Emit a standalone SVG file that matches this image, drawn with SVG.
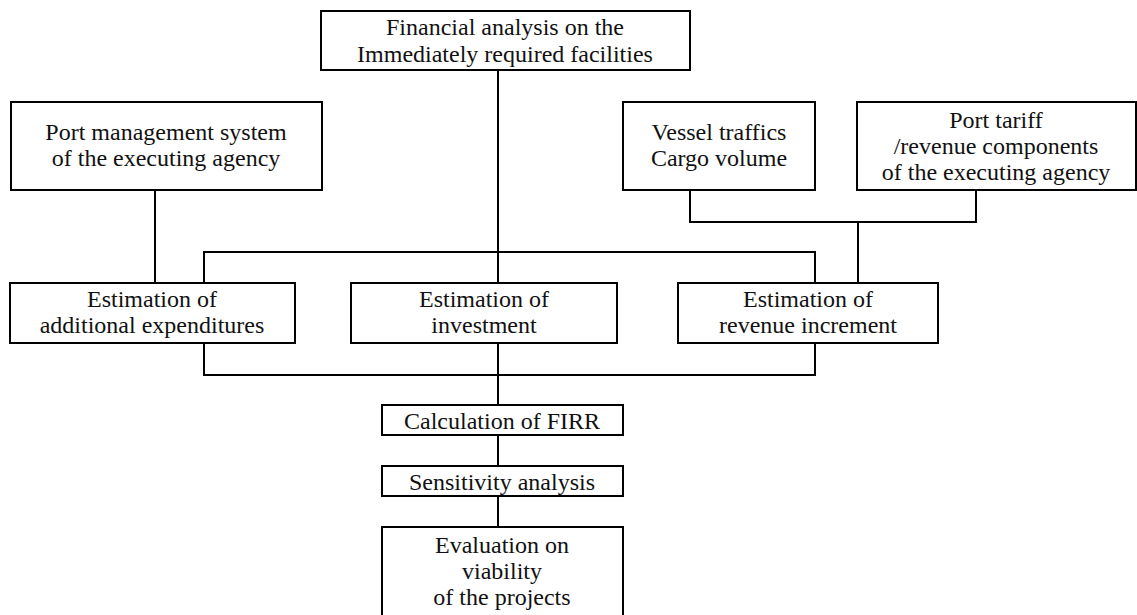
<svg xmlns="http://www.w3.org/2000/svg" width="1137" height="615" viewBox="0 0 1137 615">
  <style>
    .box { fill: #ffffff; stroke: #000000; stroke-width: 2; }
    .wire { fill: none; stroke: #000000; stroke-width: 2; }
    .lbl { font-family: 'Liberation Serif', 'Times New Roman', serif; font-size: 24px; fill: #111111; text-anchor: middle; }
  </style>

  <g id="connectors">
    <line class="wire" x1="498" y1="70" x2="498" y2="283"/>
    <line class="wire" x1="155" y1="190" x2="155" y2="283"/>
    <polyline class="wire" points="204,283 204,252 815,252 815,283"/>
    <polyline class="wire" points="690,190 690,222 976,222 976,190"/>
    <line class="wire" x1="858" y1="222" x2="858" y2="283"/>
    <polyline class="wire" points="204,343 204,375 815,375 815,343"/>
    <line class="wire" x1="498" y1="343" x2="498" y2="405"/>
    <line class="wire" x1="498" y1="435" x2="498" y2="466"/>
    <line class="wire" x1="498" y1="496" x2="498" y2="527"/>
  </g>

  <g id="financial-analysis">
    <rect class="box" x="321" y="11" width="369" height="59"/>
    <text class="lbl" x="505" y="35">Financial analysis on the</text>
    <text class="lbl" x="505" y="62">Immediately required facilities</text>
  </g>

  <g id="port-management">
    <rect class="box" x="11" y="102" width="311" height="88"/>
    <text class="lbl" x="166" y="140">Port management system</text>
    <text class="lbl" x="166" y="166">of the executing agency</text>
  </g>

  <g id="vessel-traffics">
    <rect class="box" x="623" y="102" width="192" height="88"/>
    <text class="lbl" x="719" y="140">Vessel traffics</text>
    <text class="lbl" x="719" y="166">Cargo volume</text>
  </g>

  <g id="port-tariff">
    <rect class="box" x="857" y="102" width="279" height="88"/>
    <text class="lbl" x="996" y="128">Port tariff</text>
    <text class="lbl" x="996" y="154">/revenue components</text>
    <text class="lbl" x="996" y="180">of the executing agency</text>
  </g>

  <g id="additional-expenditures">
    <rect class="box" x="10" y="283" width="285" height="60"/>
    <text class="lbl" x="152" y="307">Estimation of</text>
    <text class="lbl" x="152" y="333">additional expenditures</text>
  </g>

  <g id="investment">
    <rect class="box" x="351" y="283" width="266" height="60"/>
    <text class="lbl" x="484" y="307">Estimation of</text>
    <text class="lbl" x="484" y="333">investment</text>
  </g>

  <g id="revenue-increment">
    <rect class="box" x="678" y="283" width="260" height="60"/>
    <text class="lbl" x="808" y="307">Estimation of</text>
    <text class="lbl" x="808" y="333">revenue increment</text>
  </g>

  <g id="firr">
    <rect class="box" x="382" y="405" width="241" height="30"/>
    <text class="lbl" x="502" y="429">Calculation of FIRR</text>
  </g>

  <g id="sensitivity">
    <rect class="box" x="382" y="466" width="241" height="30"/>
    <text class="lbl" x="502" y="490">Sensitivity analysis</text>
  </g>

  <g id="evaluation">
    <rect class="box" x="382" y="527" width="241" height="92"/>
    <text class="lbl" x="502" y="553">Evaluation on</text>
    <text class="lbl" x="502" y="579">viability</text>
    <text class="lbl" x="502" y="605">of the projects</text>
  </g>
</svg>
